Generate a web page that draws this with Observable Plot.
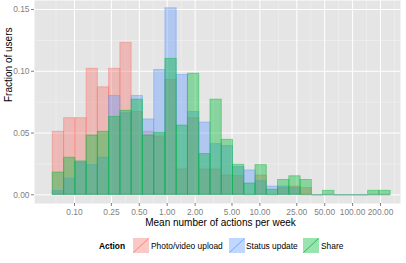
<!DOCTYPE html>
<html>
<head>
<meta charset="utf-8">
<script src="https://cdn.jsdelivr.net/npm/d3@7"></script>
<script src="https://cdn.jsdelivr.net/npm/@observablehq/plot@0.6"></script>
<style>
  html, body { margin: 0; padding: 0; background: #fff; }
  body { width: 406px; height: 263px; overflow: hidden; font-family: "Liberation Sans", Arial, sans-serif; }
  #legend { position: relative; width: 406px; height: 31px; font-size: 8.4px; color: #000; }
  #legend .t { position: absolute; top: 9px; line-height: 10px; white-space: nowrap; }
  #legend svg { position: absolute; top: 6px; }
</style>
</head>
<body>
<div id="chart"></div>
<div id="legend"></div>
<script>
// Bin edges (mean actions per week, log-spaced histogram bins)
const binEdges = [0.0583, 0.0772, 0.1021, 0.1351, 0.1786, 0.2363, 0.3126, 0.4135, 0.5470, 0.7236,
  0.9572, 1.266, 1.675, 2.216, 2.931, 3.877, 5.129, 6.785, 8.974, 11.87,
  15.70, 20.78, 27.48, 36.35, 48.08, 63.61, 84.14, 111.3, 147.2, 194.8, 257.6];

const actions = ["Photo/video upload", "Status update", "Share"];
const actionColors = ["#F8766D", "#619CFF", "#00BA38"];

// Fraction of users per bin
const photoUpload = [0.051, 0.062, 0.062, 0.102, 0.087, 0.102, 0.123, 0.067, 0.051, 0.047,
  0.093, 0.0205, 0.062, 0.0205, 0.0205, 0.0156, 0.0151, 0, 0.0156, 0,
  0.0054, 0.0067, 0.0054, 0, 0, 0, 0, 0, 0, 0];
const statusUpdate = [0.003, 0.013, 0.026, 0.024, 0.030, 0.080, 0.066, 0.080, 0.061, 0.101,
  0.151, 0.097, 0.067, 0.0585, 0.041, 0.0394, 0.0224, 0.0197, 0.011, 0.0067,
  0.0067, 0.0054, 0, 0, 0, 0, 0, 0, 0, 0];
const share = [0.018, 0.030, 0.027, 0.048, 0.051, 0.063, 0.068, 0.077, 0.048, 0.050,
  0.110, 0.056, 0.098, 0.033, 0.077, 0.0445, 0.0243, 0.0091, 0.024, 0.004,
  0.012, 0.015, 0.012, 0, 0.0032, 0, 0, 0, 0.0032, 0.0032];

const xTicks = [0.1, 0.25, 0.5, 1, 2, 5, 10, 25, 50, 100, 200];
const yTicks = [0, 0.05, 0.10, 0.15];
const yMinor = [0.025, 0.075, 0.125];

const seriesValues = [photoUpload, statusUpdate, share];
const rows = actions.flatMap((a, k) => seriesValues[k].map((v, i) => ({
  action: a, x1: binEdges[i], x2: binEdges[i + 1], y: v
})));

// minor x grid: geometric midpoints between majors, extended one step at both ends (ggplot style)
const lx = xTicks.map(Math.log10);
const ext = [2 * lx[0] - lx[1], ...lx, 2 * lx[lx.length - 1] - lx[lx.length - 2]];
const xMinor = [];
for (let i = 0; i < ext.length - 1; i++) xMinor.push(Math.pow(10, (ext[i] + ext[i + 1]) / 2));

const W = 406, H = 232, ML = 34, MR = 6, MT = 0, MB = 29;
const xDomain = [0.03702, 328.8];
const yDomain = [-0.00704, 0.1573];

const grey50 = "#7F7F7F";
const fmt = d3.format(".2f");

const plot = Plot.plot({
  width: W, height: H,
  marginLeft: ML, marginRight: MR, marginTop: MT, marginBottom: MB,
  style: { fontFamily: "'Liberation Sans', Arial, sans-serif", background: "white", overflow: "visible" },
  x: { type: "log", domain: xDomain },
  y: { domain: yDomain },
  color: { domain: actions, range: actionColors },
  marks: [
    Plot.frame({ fill: "#E5E5E5", stroke: null }),
    Plot.ruleX(xMinor.filter(v => v > xDomain[0] && v < xDomain[1]), { stroke: "#F2F2F2", strokeWidth: 0.6 }),
    Plot.ruleY(yMinor, { stroke: "#F2F2F2", strokeWidth: 0.6 }),
    Plot.ruleX(xTicks, { stroke: "#FFFFFF", strokeWidth: 1 }),
    Plot.ruleY(yTicks, { stroke: "#FFFFFF", strokeWidth: 1 }),
    Plot.ruleY(rows.filter(d => d.y === 0), {
      x1: "x1", x2: "x2", y: d => 0, stroke: "action", strokeOpacity: 0.5, strokeWidth: 1
    }),
    Plot.rect(rows.filter(d => d.y > 0), {
      x1: "x1", x2: "x2", y1: d => 0, y2: "y",
      fill: "action", fillOpacity: 0.4, stroke: "action", strokeOpacity: 0.45, strokeWidth: 1
    }),
    Plot.axisX(xTicks, {
      tickFormat: d => "", tickSize: 3, label: null, stroke: grey50
    }),
    Plot.text(xTicks, {
      x: d => d, text: d => fmt(d), frameAnchor: "bottom", dy: 5.5, lineAnchor: "top",
      fontSize: 8.4, fill: grey50
    }),
    Plot.axisY(yTicks, {
      tickSize: 3, tickFormat: d => "", label: null, stroke: grey50
    }),
    Plot.text(yTicks, {
      y: d => d, text: d => fmt(d), frameAnchor: "left", dx: -5, textAnchor: "end",
      lineAnchor: "middle", fontSize: 8.4, fill: grey50
    }),
    Plot.text(["Mean number of actions per week"], {
      frameAnchor: "bottom", dy: 19.5, dx: 3, lineAnchor: "middle", fontSize: 10, fill: "#000"
    }),
    Plot.text(["Fraction of users"], {
      frameAnchor: "left", dx: -25.5, rotate: -90, lineAnchor: "middle", fontSize: 10, fill: "#000"
    })
  ]
});
document.getElementById("chart").appendChild(plot);

// Legend
const legend = document.getElementById("legend");
const items = [
  { label: "Photo/video upload", sx: 133, tx: 151 },
  { label: "Status update", sx: 229, tx: 246 },
  { label: "Share", sx: 303, tx: 321 }
];
const title = document.createElement("div");
title.className = "t";
title.style.left = "99px";
title.style.fontWeight = "bold";
title.textContent = "Action";
legend.appendChild(title);
items.forEach((it, k) => {
  const c = actionColors[k];
  const ns = "http://www.w3.org/2000/svg";
  const s = document.createElementNS(ns, "svg");
  s.setAttribute("width", 16); s.setAttribute("height", 15);
  s.style.left = it.sx + "px";
  const r = document.createElementNS(ns, "rect");
  r.setAttribute("x", 0); r.setAttribute("y", 0); r.setAttribute("width", 16); r.setAttribute("height", 15);
  r.setAttribute("fill", c); r.setAttribute("fill-opacity", 0.4);
  s.appendChild(r);
  const l = document.createElementNS(ns, "line");
  l.setAttribute("x1", 0.5); l.setAttribute("y1", 14.5); l.setAttribute("x2", 15.5); l.setAttribute("y2", 0.5);
  l.setAttribute("stroke", c); l.setAttribute("stroke-opacity", 0.8); l.setAttribute("stroke-width", 1);
  s.appendChild(l);
  legend.appendChild(s);
  const t = document.createElement("div");
  t.className = "t";
  t.style.left = it.tx + "px";
  t.textContent = it.label;
  legend.appendChild(t);
});
</script>
</body>
</html>
